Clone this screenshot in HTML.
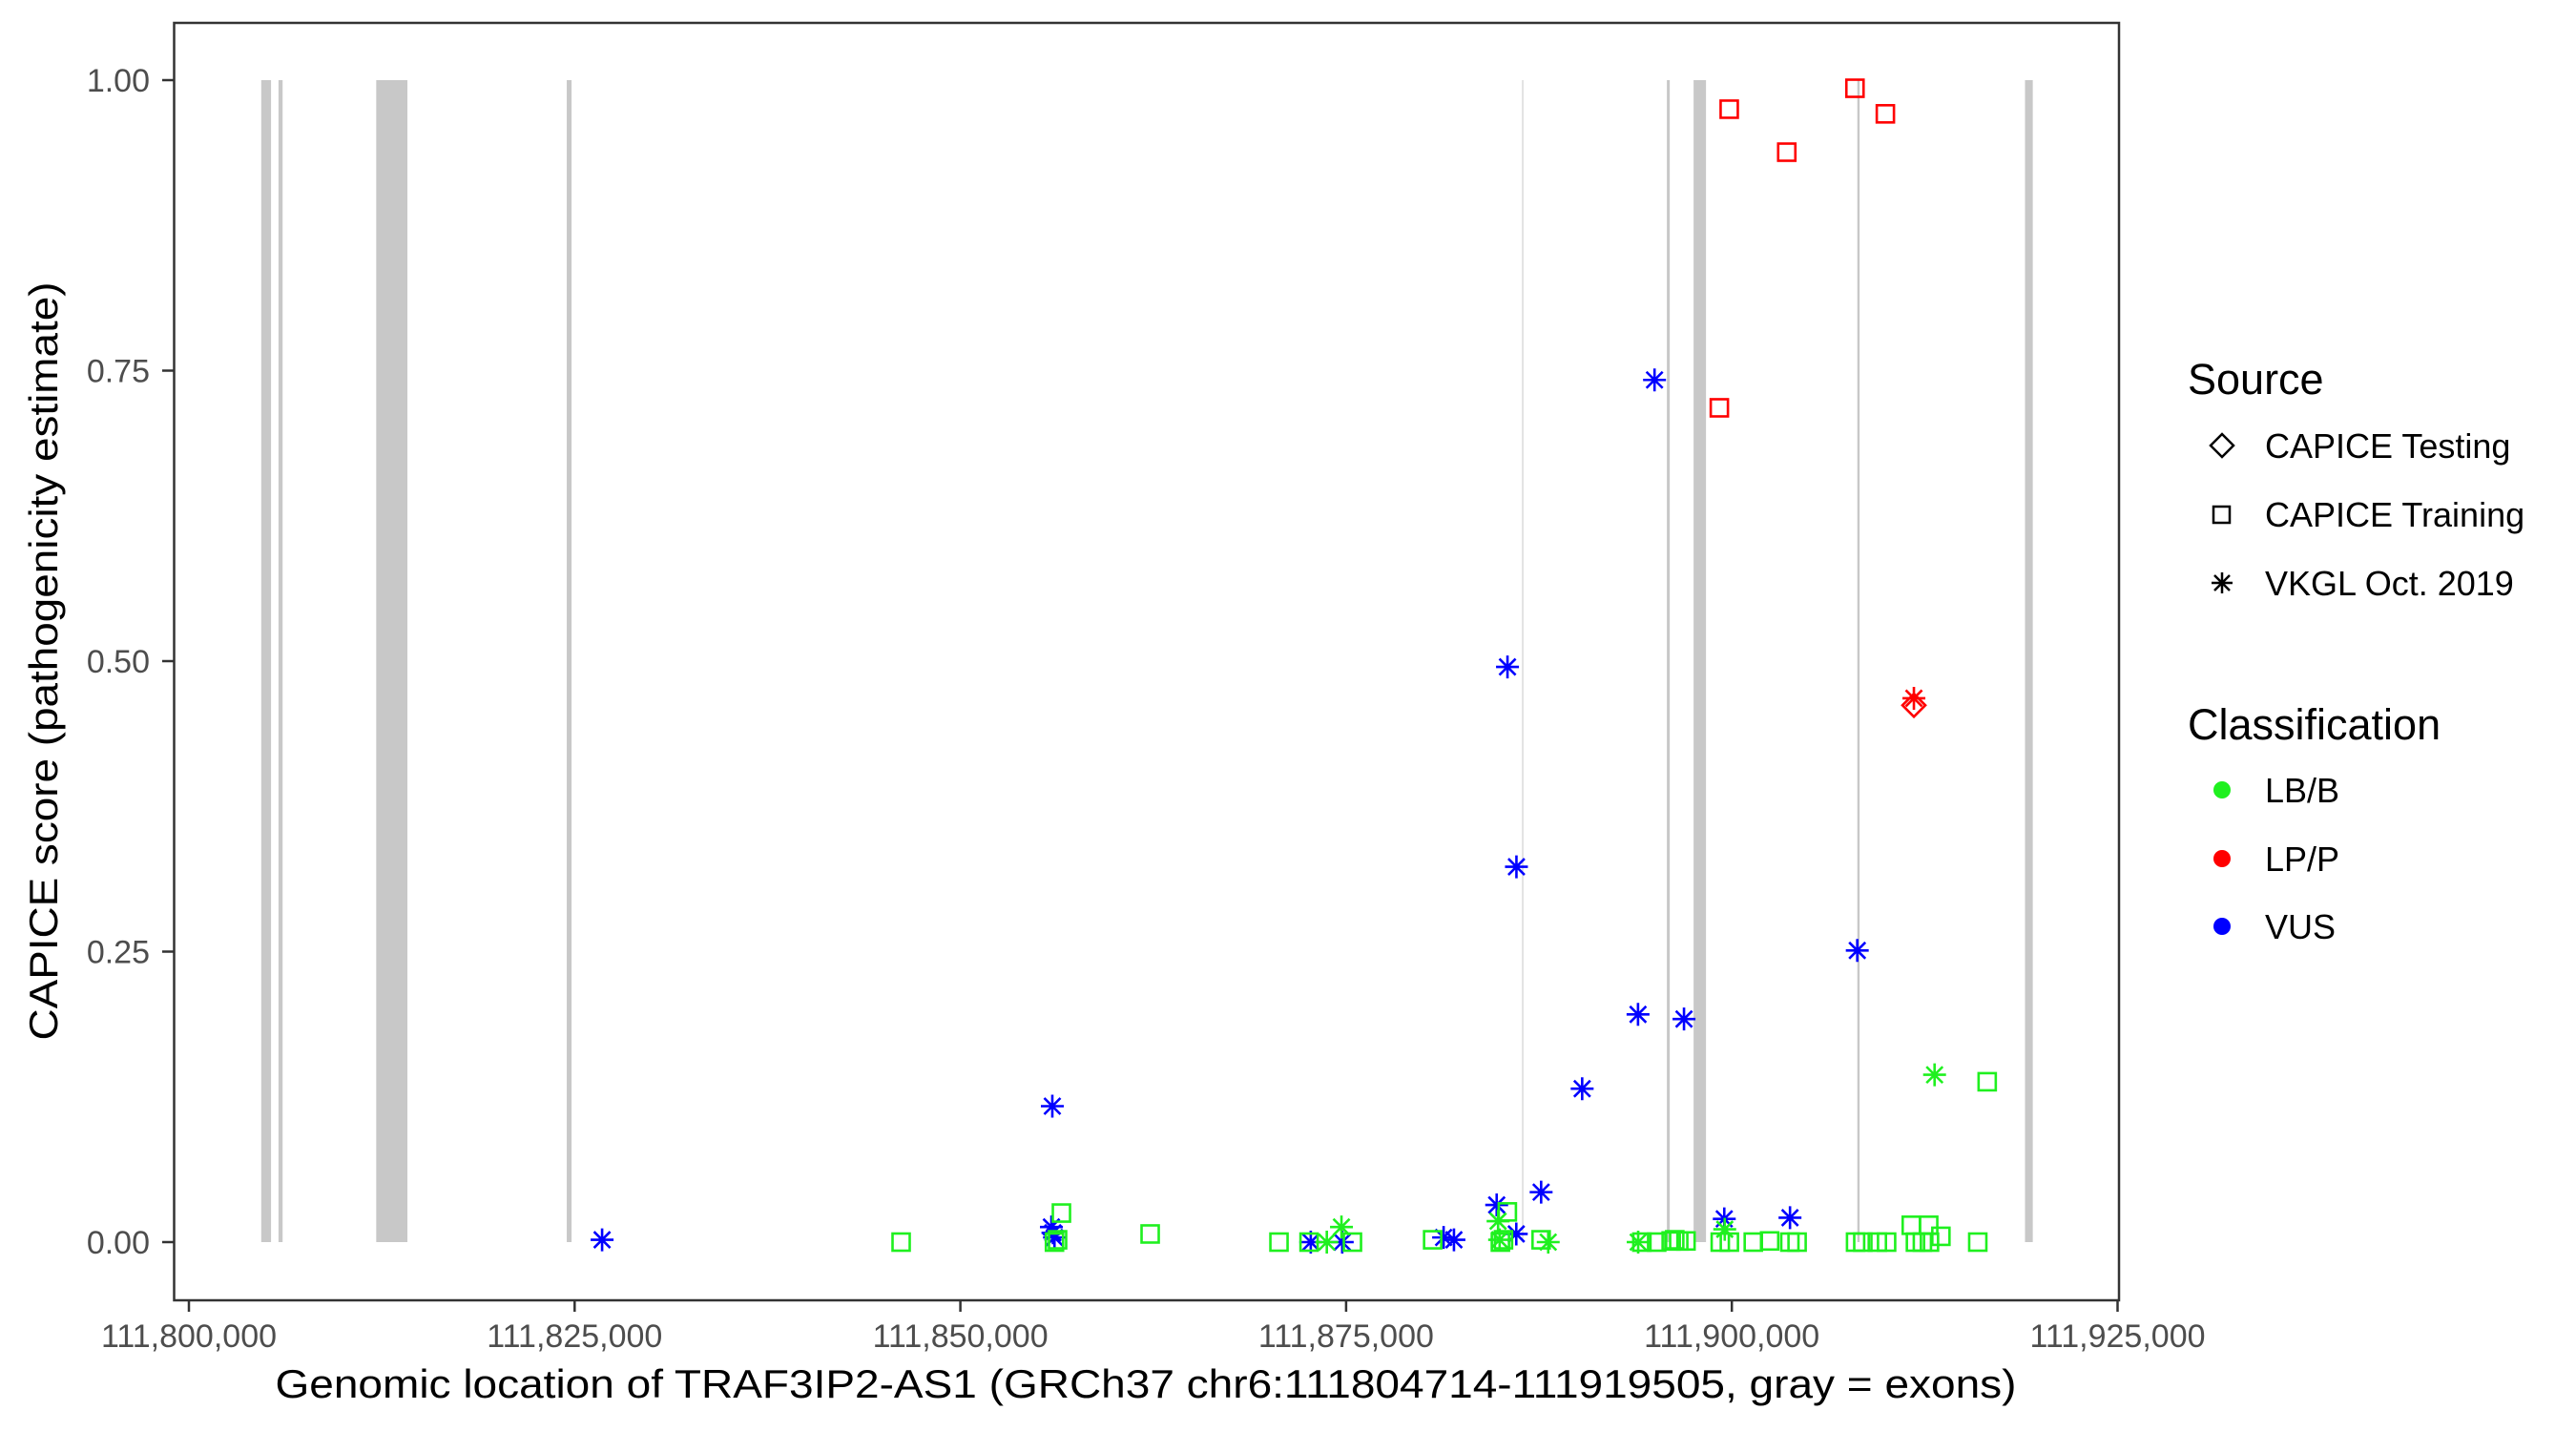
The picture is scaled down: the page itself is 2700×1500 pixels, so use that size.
<!DOCTYPE html>
<html><head><meta charset="utf-8"><style>
html,body{margin:0;padding:0;background:#fff;}
svg{display:block;font-family:"Liberation Sans",Arial,sans-serif;}
</style></head><body>
<svg id="chart" width="2700" height="1500" viewBox="0 0 2700 1500">
<rect x="0" y="0" width="2700" height="1500" fill="#fff"/>
<g id="exons"></g>
<g id="points"></g>
<rect x="182.5" y="24" width="2038.5" height="1339" fill="none" stroke="#333" stroke-width="2.5"/>
<g id="xaxis"></g>
<g id="yaxis"></g>
<text x="1201" y="1465" text-anchor="middle" font-size="42" textLength="1825" lengthAdjust="spacingAndGlyphs" fill="#000">Genomic location of TRAF3IP2-AS1 (GRCh37 chr6:111804714-111919505, gray = exons)</text>
<text transform="translate(60,693) rotate(-90)" text-anchor="middle" font-size="42" textLength="795" lengthAdjust="spacingAndGlyphs" fill="#000">CAPICE score (pathogenicity estimate)</text>
<g>
<text x="2293" y="413" font-size="45" fill="#000">Source</text>
<g>
<path d="M2329,455 L2341,467 L2329,479 L2317,467 Z" fill="none" stroke="#000" stroke-width="2.5"/>
<text x="2374" y="480" font-size="36" fill="#000">CAPICE Testing</text></g>
<g>
<rect x="2320" y="531" width="17" height="17" fill="none" stroke="#000" stroke-width="2.5"/>
<text x="2374" y="552" font-size="36" fill="#000">CAPICE Training</text></g>
<g>
<path d="M2318,611 H2340 M2329,600 V622 M2321,603 L2337,619 M2337,603 L2321,619" stroke="#000" stroke-width="2.5"/>
<text x="2374" y="624" font-size="36" fill="#000">VKGL Oct. 2019</text></g>
<text x="2293" y="775" font-size="45" fill="#000">Classification</text>
<g><circle cx="2329" cy="828" r="9" fill="#1ff01f"/><text x="2374" y="841" font-size="36" fill="#000">LB/B</text></g>
<g><circle cx="2329" cy="900" r="9" fill="#ff0000"/><text x="2374" y="913" font-size="36" fill="#000">LP/P</text></g>
<g><circle cx="2329" cy="971" r="9" fill="#0000ff"/><text x="2374" y="984" font-size="36" fill="#000">VUS</text></g>
</g>
</svg>
<script>
// exon coordinates (bp)
const exonStarts = [111804687, 111805807, 111812140, 111824489, 111886416, 111895790, 111897522, 111908133, 111919000];
const exonEnds   = [111805324, 111806073, 111814162, 111824799, 111886465, 111895976, 111898326, 111908281, 111919505];
const xTicks = [111800000, 111825000, 111850000, 111875000, 111900000, 111925000];
const xTickLabels = ["111,800,000","111,825,000","111,850,000","111,875,000","111,900,000","111,925,000"];
const yTicks = [0, 0.25, 0.5, 0.75, 1.0];
const yTickLabels = ["0.00","0.25","0.50","0.75","1.00"];
// variants
const varPos = [
111826780,111855960,111855900,111856000,111856100,111872710,111874750,111881320,111881990,111884760,111885460,111886040,111886030,111887640,111890300,111893920,111894990,111896900,111899510,111903770,111908130,
111874700,111873750,111884850,111884950,111888100,111893930,111899540,111913140,
111911800,
111911800,
111899830,111907980,111909950,111903560,111899190,
111846160,111856550,111856100,111856300,111862300,111870650,111872600,111875410,111880610,111885450,111885000,111885200,111887640,111894170,111895130,111896070,111896560,111897030,111896300,111899250,111899840,111901390,111902450,111903760,111904230,111908020,111908490,111909430,111910030,111911630,111912760,111913550,111912350,111912810,111911900,111915940,111916550];
const varScore = [
0.002,0.117,0.013,0.008,0.004,0.0,0.0,0.004,0.002,0.032,0.495,0.323,0.007,0.043,0.132,0.196,0.742,0.192,0.020,0.021,0.251,
0.013,0.0,0.018,0.002,0.0,0.0,0.011,0.144,
0.468,
0.462,
0.975,0.993,0.971,0.938,0.718,
0,0.025,0.0,0.002,0.007,0,0,0,0.002,0.026,0,0.002,0.002,0,0,0.001,0.001,0.001,0.002,0,0,0,0.001,0,0,0,0,0,0,0.0145,0.0145,0.005,0,0,0,0,0.138];
const varSource = [].concat(Array(21).fill("VKGL"),Array(8).fill("VKGL"),["VKGL"],["Testing"],Array(5).fill("Training"),Array(37).fill("Training"));
const varClass = [].concat(Array(21).fill("VUS"),Array(8).fill("LB/B"),["LP/P"],["LP/P"],Array(5).fill("LP/P"),Array(37).fill("LB/B"));

const NS="http://www.w3.org/2000/svg";
function xs(v){return 198 + (v-111800000)*404.3/25000;}
function ys(v){return 1302 - v*1218;}
const colors={"LB/B":"#1ff01f","LP/P":"#ff0000","VUS":"#0000ff"};
function mk(tag,attrs,parent){const e=document.createElementNS(NS,tag);for(const k in attrs)e.setAttribute(k,attrs[k]);parent.appendChild(e);return e;}

const gEx=document.getElementById('exons');
for(let i=0;i<exonStarts.length;i++){
  const x0=xs(exonStarts[i]), x1=xs(exonEnds[i]);
  const r=mk('rect',{x:x0,y:ys(1),width:Math.max(1,x1-x0),height:ys(0)-ys(1),fill:'#c8c8c8'},gEx);
  
  
}
const gX=document.getElementById('xaxis');
xTicks.forEach((t,i)=>{
  const x=xs(t);
  const l=mk('line',{x1:x,x2:x,y1:1363,y2:1375,stroke:'#333','stroke-width':2.5},gX);
  
  
  const tx=mk('text',{x:x,y:1412,'text-anchor':'middle','font-size':34,fill:'#4d4d4d'},gX);
  tx.textContent=xTickLabels[i];
  
  
});
const gY=document.getElementById('yaxis');
yTicks.forEach((t,i)=>{
  const y=ys(t);
  const l=mk('line',{x1:170,x2:182.5,y1:y,y2:y,stroke:'#333','stroke-width':2.5},gY);
  
  
  const tx=mk('text',{x:157,y:y+12,'text-anchor':'end','font-size':34,fill:'#4d4d4d'},gY);
  tx.textContent=yTickLabels[i];
  
  
});
const gP=document.getElementById('points');
for(let i=0;i<varPos.length;i++){
  const x=xs(varPos[i]), y=ys(varScore[i]), c=colors[varClass[i]];
  let e;
  if(varSource[i]==="Training"){
    e=mk('rect',{x:x-9,y:y-9,width:18,height:18,fill:'none',stroke:c,'stroke-width':2.6},gP);
  } else if(varSource[i]==="Testing"){
    e=mk('path',{d:`M${x},${y-12} L${x+12},${y} L${x},${y+12} L${x-12},${y} Z`,fill:'none',stroke:c,'stroke-width':2.6},gP);
  } else {
    e=mk('path',{d:`M${x-12},${y} H${x+12} M${x},${y-12} V${y+12} M${x-8.5},${y-8.5} L${x+8.5},${y+8.5} M${x+8.5},${y-8.5} L${x-8.5},${y+8.5}`,stroke:c,'stroke-width':2.6},gP);
  }
  
  
}
</script>
</body></html>
